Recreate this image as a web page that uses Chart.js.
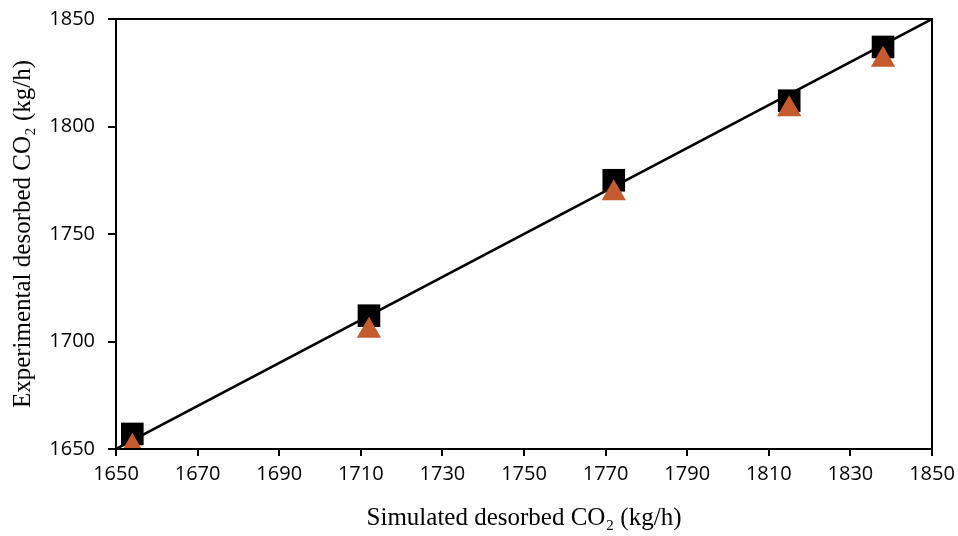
<!DOCTYPE html>
<html>
<head>
<meta charset="utf-8">
<script src="https://cdn.jsdelivr.net/npm/chart.js@4.4.1/dist/chart.umd.min.js"></script>
<style>
	html, body { margin: 0; padding: 0; background: #fff; }
	#wrap { width: 958px; height: 536px; }
</style>
</head>
<body>
<div id="wrap"><canvas id="parity"></canvas></div>
<script>
// simulated vs experimental desorbed CO2 (kg/h)
let simX = [1654, 1712, 1772, 1815, 1838];
let expSquare = [1657, 1712, 1775, 1812, 1837];
let expTriangle = [1651, 1705, 1769, 1808, 1831];
let diagX = [1650, 1850];
let diagY = [1650, 1850];

function pts(xs, ys) {
	return xs.map((x, i) => ({x: x, y: ys[i]}));
}

const boxPlugin = {
	id: 'box',
	afterDraw(chart) {
		const a = chart.chartArea;
		const ctx = chart.ctx;
		ctx.save();
		ctx.strokeStyle = '#000';
		ctx.lineWidth = 2;
		ctx.strokeRect(a.left, a.top, a.right - a.left, a.bottom - a.top);
		ctx.restore();
	}
};

const parityData = {
	datasets: [{
		label: 'Triangle',
		data: pts(simX, expTriangle),
		pointStyle: 'triangle',
		pointRadius: 14,
		backgroundColor: '#C55A2C',
		borderColor: '#C55A2C',
		borderWidth: 0
	}, {
		label: 'Square',
		data: pts(simX, expSquare),
		pointStyle: 'rect',
		pointRadius: 16,
		backgroundColor: '#000',
		borderColor: '#000',
		borderWidth: 0
	}, {
		label: 'y = x',
		type: 'line',
		data: pts(diagX, diagY),
		borderColor: '#000',
		borderWidth: 2.5,
		pointRadius: 0,
		tension: 0
	}]
};

const config = {
	type: 'scatter',
	data: parityData,
	options: {
		responsive: true,
		maintainAspectRatio: false,
		animation: false,
		layout: { padding: { top: 19, right: 26, left: 2, bottom: 2 } },
		plugins: {
			legend: { display: false },
			tooltip: { enabled: false }
		},
		scales: {
			x: {
				type: 'linear',
				min: 1650,
				max: 1850,
				afterFit: function(scale) {
					scale.height = 85;
					scale.paddingRight = 0;
					scale.paddingLeft = 0;
				},
				ticks: {
					stepSize: 20,
					color: '#000',
					font: { family: 'Open Sans', size: 20 },
					padding: 6,
					callback: function(value) { return String(value); }
				},
				grid: { drawOnChartArea: false, drawTicks: true, tickLength: 7, color: '#000', lineWidth: 2 },
				border: { color: '#000', width: 2 },
				title: {
					display: true,
					text: 'Simulated desorbed CO₂ (kg/h)',
					color: '#000',
					font: { family: 'Liberation Serif', size: 25 },
					padding: { top: 4, bottom: 1 }
				}
			},
			y: {
				type: 'linear',
				min: 1650,
				max: 1850,
				afterFit: function(scale) {
					scale.width = 114;
					scale.paddingTop = 0;
					scale.paddingBottom = 0;
				},
				ticks: {
					stepSize: 50,
					color: '#000',
					font: { family: 'Open Sans', size: 20 },
					padding: 13,
					callback: function(value) { return String(value); }
				},
				grid: { drawOnChartArea: false, drawTicks: true, tickLength: 8, color: '#000', lineWidth: 2 },
				border: { color: '#000', width: 2 },
				title: {
					display: true,
					text: 'Experimental desorbed CO₂ (kg/h)',
					color: '#000',
					font: { family: 'Liberation Serif', size: 25 },
					padding: { top: 6, bottom: 4 }
				}
			}
		}
	},
	plugins: [boxPlugin]
};

const parityChart = new Chart(document.getElementById('parity'), config);
</script>
</body>
</html>
